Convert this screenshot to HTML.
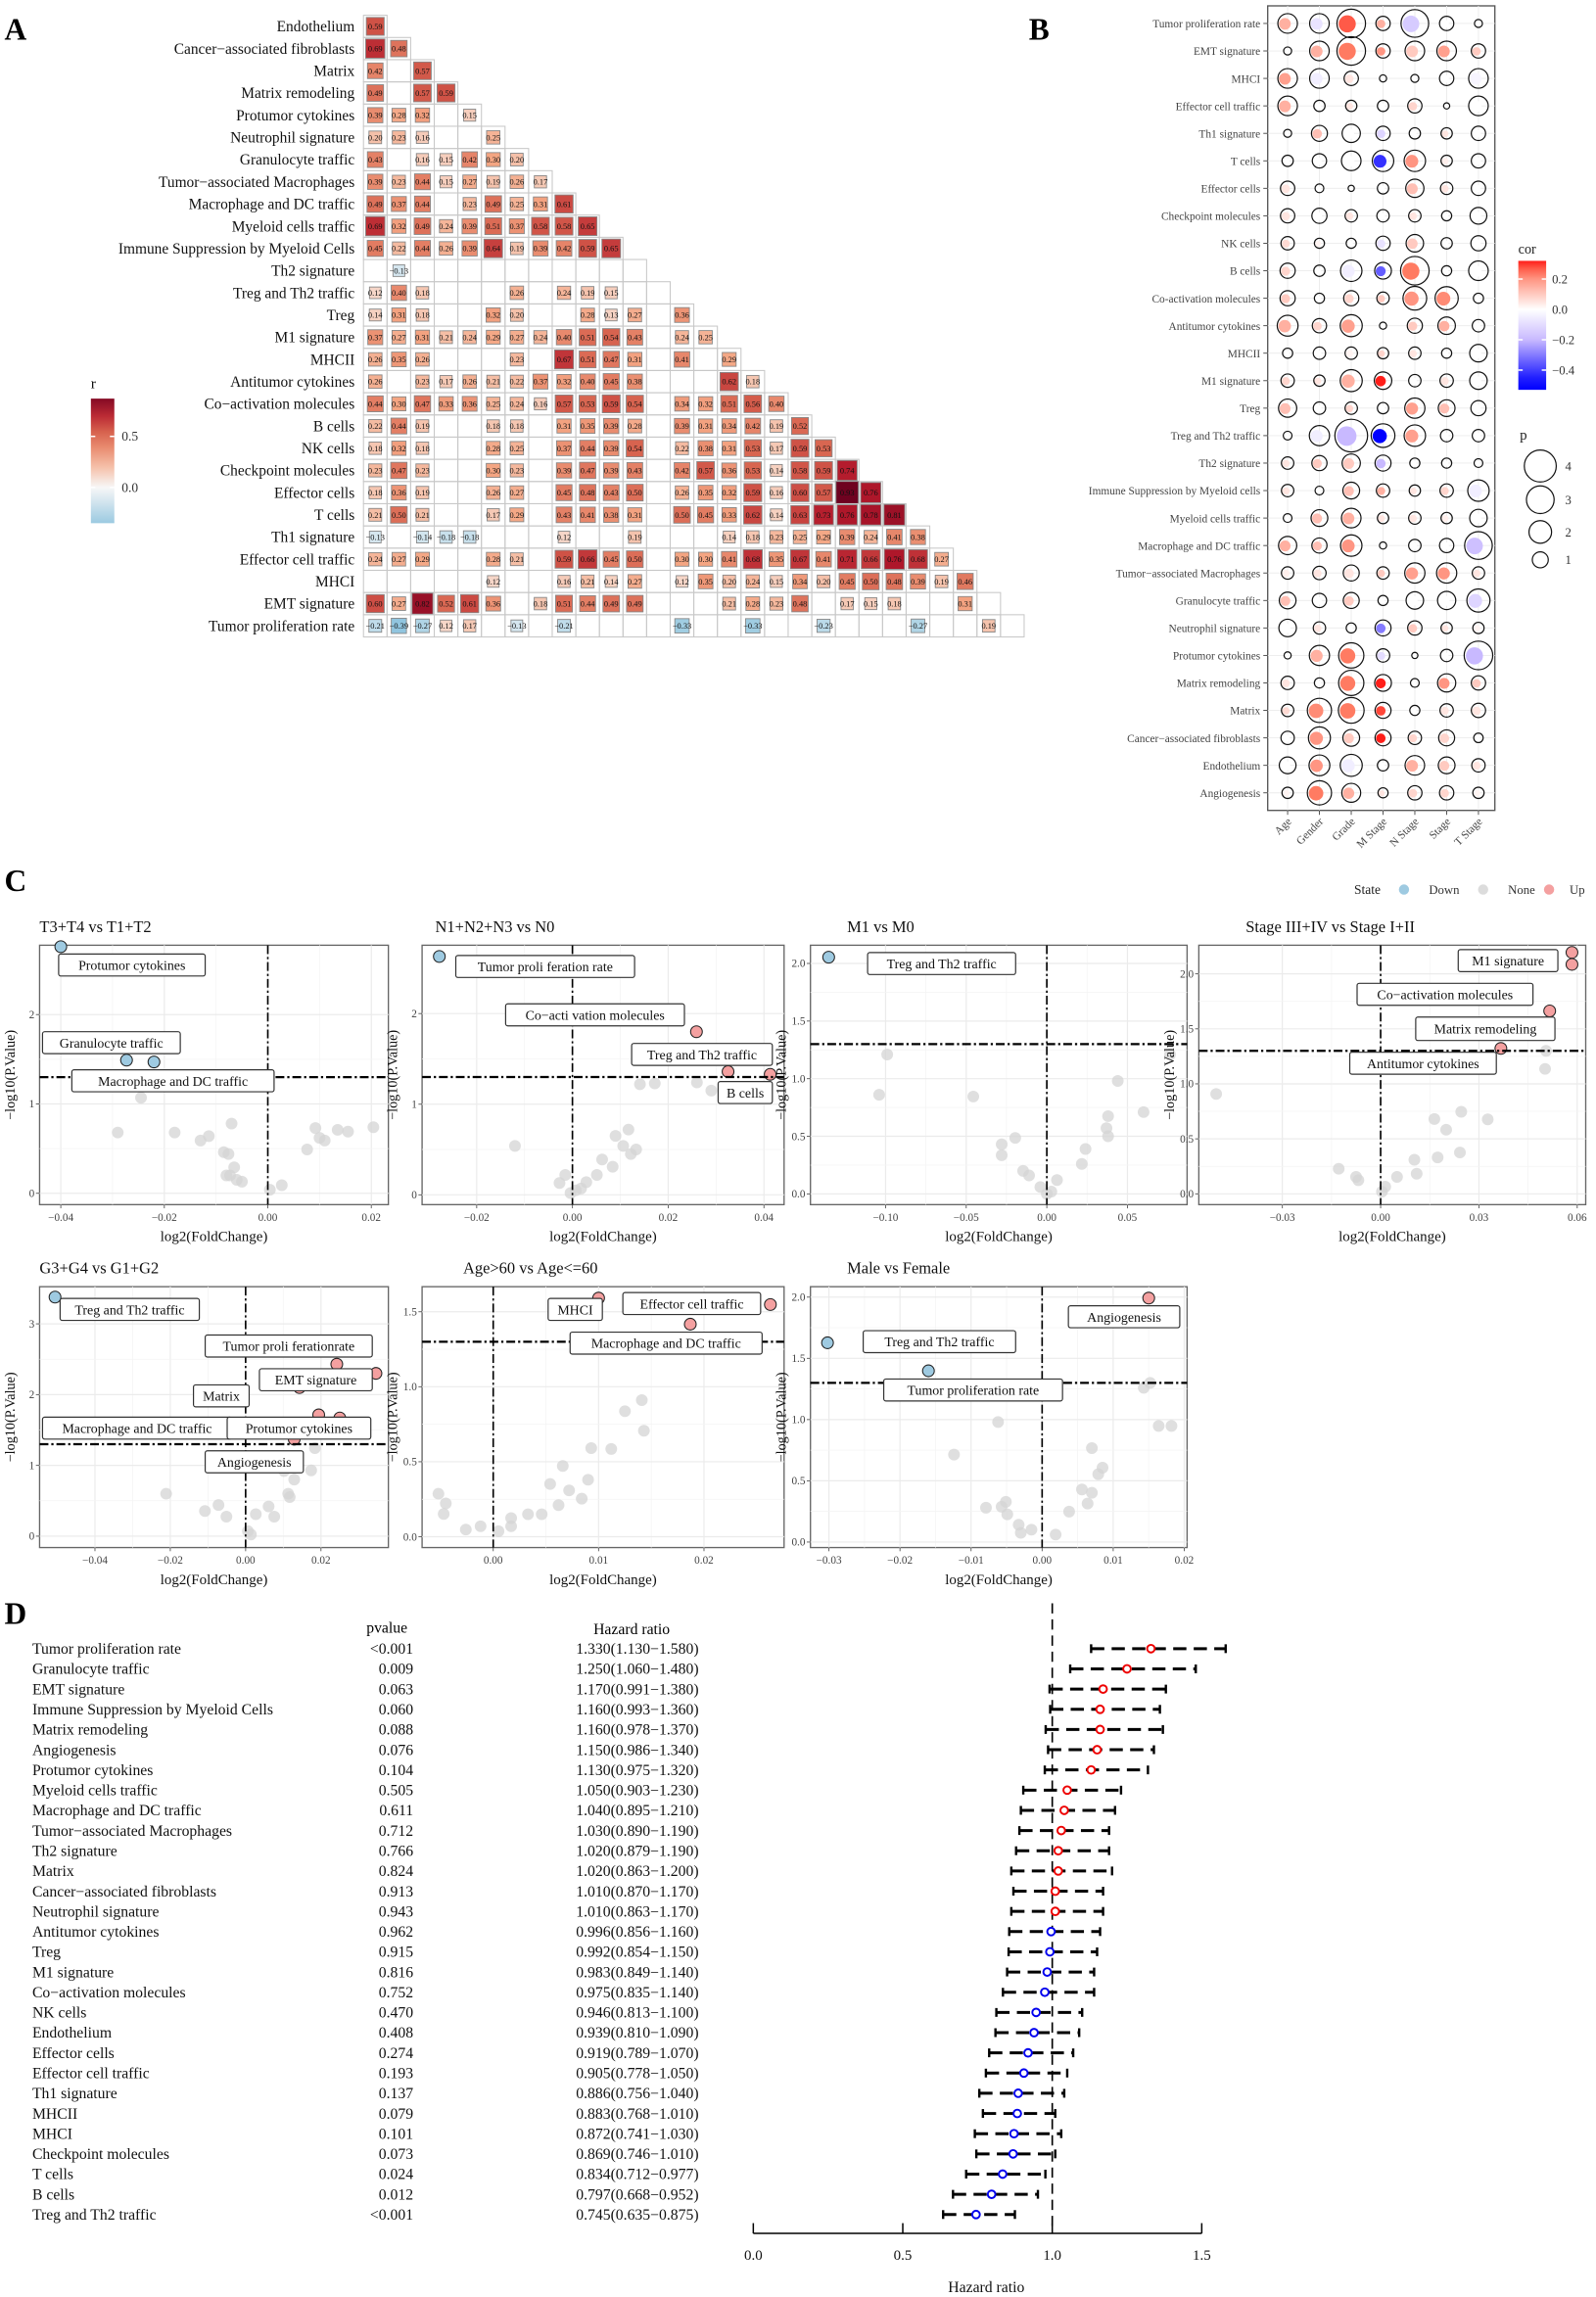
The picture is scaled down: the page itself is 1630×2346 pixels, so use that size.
<!DOCTYPE html>
<html><head><meta charset="utf-8">
<style>
html,body{margin:0;padding:0;background:#fff}
svg{display:block}
text{font-family:"Liberation Serif",serif}
</style></head>
<body>
<svg id="fig" width="1630" height="2346" viewBox="0 0 1089 1567.4" xmlns="http://www.w3.org/2000/svg"></svg>
<script>
// ---------- Panel A data ----------
const A_names=["Endothelium","Cancer−associated fibroblasts","Matrix","Matrix remodeling","Protumor cytokines","Neutrophil signature","Granulocyte traffic","Tumor−associated Macrophages","Macrophage and DC traffic","Myeloid cells traffic","Immune Suppression  by Myeloid Cells","Th2 signature","Treg and Th2 traffic","Treg","M1 signature","MHCII","Antitumor cytokines","Co−activation molecules","B cells","NK cells","Checkpoint molecules","Effector cells","T cells","Th1 signature","Effector cell traffic","MHCI","EMT signature","Tumor proliferation  rate"];
const _=null;
const A_vals=[
[.59],
[.69,.48],
[.42,_,.57],
[.49,_,.57,.59],
[.39,.28,.32,_,.15],
[.20,.23,.16,_,_,.25],
[.43,_,.16,.15,.42,.30,.20],
[.39,.23,.44,.15,.27,.19,.26,.17],
[.49,.37,.44,_,.23,.49,.25,.31,.61],
[.69,.32,.49,.24,.39,.51,.37,.58,.58,.65],
[.45,.22,.44,.26,.39,.64,.19,.39,.42,.59,.65],
[_,-.13],
[.12,.40,.18,_,_,_,.26,_,.24,.19,.15],
[.14,.31,.18,_,_,.32,.20,_,_,.28,.13,.27,_,.36],
[.37,.27,.31,.21,.24,.29,.27,.24,.40,.51,.54,.43,_,.24,.25],
[.26,.35,.26,_,_,_,.23,_,.67,.51,.47,.31,_,.41,_,.29],
[.26,_,.23,.17,.26,.21,.22,.37,.32,.40,.45,.38,_,_,_,.62,.18],
[.44,.30,.47,.33,.36,.25,.24,.16,.57,.53,.59,.54,_,.34,.32,.51,.56,.40],
[.22,.44,.19,_,_,.18,.18,_,.31,.35,.39,.28,_,.39,.31,.34,.42,.19,.52],
[.18,.32,.18,_,_,.28,.25,_,.37,.44,.39,.54,_,.22,.38,.31,.53,.17,.59,.53],
[.23,.47,.23,_,_,.30,.23,_,.39,.47,.39,.43,_,.42,.57,.36,.53,.14,.58,.59,.74],
[.18,.36,.19,_,_,.26,.27,_,.45,.48,.43,.50,_,.26,.35,.32,.59,.16,.60,.57,.93,.76],
[.21,.50,.21,_,_,.17,.29,_,.43,.41,.38,.31,_,.50,.45,.33,.62,.14,.63,.73,.76,.78,.81],
[-.13,_,-.14,-.18,-.18,_,_,_,.12,_,_,.19,_,_,_,.14,.18,.23,.25,.29,.39,.24,.41,.38],
[.24,.27,.29,_,_,.28,.21,_,.59,.66,.45,.50,_,.30,.30,.41,.68,.35,.67,.41,.71,.66,.76,.68,.27],
[_,_,_,_,_,.12,_,_,.16,.21,.14,.27,_,.12,.35,.20,.24,.15,.34,.20,.45,.50,.48,.39,.19,.46],
[.60,.27,.82,.52,.61,.36,_,.18,.51,.44,.49,.49,_,_,_,.21,.28,.23,.48,_,.17,.15,.18,_,_,.31],
[-.21,-.39,-.27,.12,.17,_,-.13,_,-.21,_,_,_,_,-.33,_,_,-.33,_,_,-.23,_,_,_,-.27,_,_,.19]
];
const A_legendTicks=[0.5,0.0];

// ---------- Panel B data ----------
const B_rows=["Tumor proliferation rate","EMT signature","MHCI","Effector cell traffic","Th1 signature","T cells","Effector cells","Checkpoint molecules","NK cells","B cells","Co-activation molecules","Antitumor cytokines","MHCII","M1 signature","Treg","Treg and Th2 traffic","Th2 signature","Immune Suppression by Myeloid cells","Myeloid cells traffic","Macrophage and DC traffic","Tumor−associated Macrophages","Granulocyte traffic","Neutrophil signature","Protumor cytokines","Matrix remodeling","Matrix","Cancer−associated fibroblasts","Endothelium","Angiogenesis"];
const B_cols=["Age","Gender","Grade","M Stage","N Stage","Stage","T Stage"];
const B_p=[
[1.5,1.5,3.2,0.8,3.0,0.8,0.25],[0.25,1.5,3.2,0.8,1.5,1.5,0.8],[1.5,1.5,0.8,0.2,0.25,0.8,1.5],[1.5,0.5,0.5,0.5,0.8,0.15,1.5],
[0.25,1.0,1.3,0.8,0.5,0.5,0.8],[0.5,0.8,1.5,1.8,1.8,0.5,0.8],[0.8,0.3,0.15,0.5,1.3,0.6,0.8],[0.8,0.9,0.6,0.6,0.6,0.4,1.1],
[0.7,0.4,0.4,0.8,1.2,0.5,0.9],[0.9,0.5,1.8,1.1,3.2,0.4,1.5],[0.9,0.4,0.9,0.6,2.2,2.1,0.4],[1.7,0.8,1.9,0.2,0.9,1.2,0.6],
[0.4,0.6,0.6,0.5,0.6,0.4,1.2],[0.7,0.5,1.9,1.2,0.6,0.7,1.2],[1.3,0.6,0.6,0.5,1.6,1.1,0.9],[0.3,1.6,4.2,2.2,1.8,0.6,0.6],
[0.6,0.9,1.3,1.0,0.4,0.4,0.3],[0.6,0.3,1.1,0.7,0.5,0.7,1.8],[0.3,1.1,1.5,0.5,0.6,0.5,1.2],[1.3,0.9,1.8,0.2,0.6,0.8,3.0],
[0.6,0.7,1.0,0.6,1.6,1.6,0.6],[1.1,0.8,1.0,0.4,1.2,1.3,2.1],[1.2,0.6,0.4,1.0,0.8,0.5,0.5],[0.2,1.6,2.5,0.7,0.15,0.6,3.2],
[0.7,0.4,2.5,1.1,0.3,1.3,0.8],[0.6,2.3,2.6,1.0,0.4,0.7,0.8],[0.7,1.9,1.1,1.0,0.7,1.0,0.35],[1.1,1.7,1.9,0.5,1.5,1.1,0.7],
[0.5,2.3,1.4,0.4,0.8,0.8,0.5]];
const B_cor=[
[.15,-.08,.27,.15,-.15,0,0],[0,.15,.25,.2,.1,.18,.1],[.18,-.05,.05,0,0,0,-.03],[.15,0,.05,0,.08,0,0],
[0,.12,0,-.12,0,.05,0],[0,0,0,-.42,.2,.03,0],[.05,0,0,0,.12,.05,0],[.05,0,.05,0,.05,0,0],
[.07,.02,0,-.08,.1,0,0],[.08,0,-.05,-.35,.25,0,0],[.1,0,.08,.1,.2,.22,0],[.15,.08,.18,0,.1,.15,0],
[0,0,.02,.08,.05,0,0],[.08,.05,.15,.33,0,.05,0],[.12,0,.08,0,.18,.12,0],[0,-.05,-.2,-.5,.18,0,0],
[.05,.1,.1,-.2,0,0,0],[.05,0,.12,.15,.05,.08,-.05],[0,.12,.15,.05,.05,.03,0],[.15,.12,.2,0,0,0,-.18],
[.03,.05,.05,.1,.18,.2,.05],[.12,0,.1,0,0,0,-.12],[0,.05,0,-.3,.1,.05,.02],[0,.15,.25,-.1,0,0,-.2],
[.05,0,.25,.45,0,.2,.1],[.07,.22,.25,.28,0,.05,.05],[0,.2,.1,.3,.08,.08,0],[0,.2,-.05,0,.15,.1,.05],
[.02,.25,.15,.05,.08,.08,.02]];
const B_corTicks=[0.2,0.0,-0.2,-0.4];
const B_pLegend=[4,3,2,1];

// ---------- Panel C data ----------
const v1x=[-0.040,-0.0273,-0.022,-0.0245,-0.029,-0.018,-0.0114,-0.013,-0.007,-0.0085,-0.0076,-0.0065,-0.0073,-0.008,-0.005,-0.006,0.0004,0.0027,0.0076,0.0092,0.011,0.0135,0.0155,0.0204,0.010];
const v1y=[2.76,1.49,1.47,1.07,0.68,0.68,0.64,0.59,0.78,0.46,0.44,0.29,0.20,0.20,0.13,0.15,0.04,0.09,0.49,0.73,0.59,0.71,0.69,0.74,0.62];
const v1s=["D","D","D","N","N","N","N","N","N","N","N","N","N","N","N","N","N","N","N","N","N","N","N","N","N"];
const v2x=[-0.0278,0.0259,0.0325,0.0413,0.0141,0.0172,0.026,0.029,-0.012,0.0117,0.009,0.0106,0.0133,0.0122,0.0062,0.0084,0.0051,0.0029,0.0018,-0.0015,-0.0027,-0.0004,0.0007];
const v2y=[2.63,1.80,1.36,1.33,1.22,1.23,1.24,1.15,0.54,0.72,0.65,0.54,0.50,0.45,0.39,0.31,0.22,0.14,0.07,0.22,0.13,0.02,0.05];
const v2s=["D","U","U","U","N","N","N","N","N","N","N","N","N","N","N","N","N","N","N","N","N","N","N"];
const v3x=[-0.1353,-0.099,0.0764,-0.104,-0.0456,0.044,0.06,0.038,0.037,0.038,-0.0196,-0.028,-0.028,0.024,0.0217,-0.0147,-0.011,0.0063,-0.004,0.0028,0.0];
const v3y=[2.054,1.21,1.21,0.86,0.845,0.98,0.71,0.675,0.57,0.50,0.486,0.43,0.336,0.39,0.26,0.20,0.16,0.12,0.06,0.02,0.0];
const v3s=["D","N","N","N","N","N","N","N","N","N","N","N","N","N","N","N","N","N","N","N","N"];
const v4x=[0.0584,0.0584,0.0516,0.0367,0.0505,0.0502,-0.0502,0.0246,0.0164,0.0327,0.020,0.0242,0.0174,0.0103,0.011,0.005,-0.0128,-0.0075,-0.0068,0.0014,0.0004];
const v4y=[2.195,2.086,1.663,1.322,1.30,1.136,0.908,0.746,0.68,0.677,0.583,0.376,0.331,0.31,0.183,0.154,0.228,0.154,0.124,0.065,0.02];
const v4s=["U","U","U","U","N","N","N","N","N","N","N","N","N","N","N","N","N","N","N","N","N"];
const v5x=[-0.0506,0.0242,0.0346,0.0143,0.0194,0.025,0.0129,0.0184,0.0102,0.0129,0.0174,-0.0211,-0.0072,-0.0108,-0.0051,0.0027,0.0061,0.0076,0.0113,0.0117,0.0006,0.0014];
const v5y=[3.378,2.43,2.30,2.10,1.714,1.67,1.37,1.244,0.92,0.80,0.93,0.60,0.44,0.355,0.276,0.31,0.42,0.276,0.60,0.553,0.07,0.023];
const v5s=["D","U","U","U","U","U","U","N","N","N","N","N","N","N","N","N","N","N","N","N","N","N"];
const v6x=[0.010,0.0263,0.0187,0.0141,0.0125,0.0143,0.0093,0.0112,0.0066,0.0054,0.009,0.0072,0.0084,0.0062,0.0046,0.0033,0.0017,0.0017,0.0005,-0.0012,-0.0026,-0.0052,-0.0045,-0.0047];
const v6y=[1.591,1.548,1.417,0.911,0.837,0.707,0.591,0.585,0.472,0.352,0.38,0.309,0.254,0.211,0.15,0.15,0.124,0.07,0.037,0.07,0.048,0.287,0.222,0.152];
const v6s=["U","U","U","N","N","N","N","N","N","N","N","N","N","N","N","N","N","N","N","N","N","N","N","N"];
const v7x=[-0.0302,-0.016,0.015,0.0152,0.0143,0.0164,0.0182,-0.0062,-0.0124,0.007,0.0085,0.0079,0.007,0.0056,0.0064,0.0038,-0.0079,-0.0051,-0.0057,-0.0049,-0.0033,-0.003,-0.0015,0.0019];
const v7y=[1.627,1.398,1.992,1.30,1.26,0.948,0.948,0.98,0.714,0.767,0.607,0.554,0.402,0.429,0.314,0.248,0.28,0.328,0.288,0.226,0.141,0.075,0.101,0.061];
const v7s=["D","D","U","N","N","N","N","N","N","N","N","N","N","N","N","N","N","N","N","N","N","N","N","N"];
const v1xt=[-0.04,-0.02,0.00,0.02], v1yt=[0,1,2];
const v2xt=[-0.02,0.00,0.02,0.04], v2yt=[0,1,2];
const v3xt=[-0.10,-0.05,0.00,0.05], v3yt=[0.0,0.5,1.0,1.5,2.0];
const v4xt=[-0.03,0.00,0.03,0.06], v4yt=[0.0,0.5,1.0,1.5,2.0];
const v5xt=[-0.04,-0.02,0.00,0.02], v5yt=[0,1,2,3];
const v6xt=[0.00,0.01,0.02], v6yt=[0.0,0.5,1.0,1.5];
const v7xt=[-0.03,-0.02,-0.01,0.00,0.01,0.02], v7yt=[0.0,0.5,1.0,1.5,2.0];

// ---------- Panel D data ----------
const D_names=["Tumor proliferation rate","Granulocyte traffic","EMT signature","Immune Suppression by Myeloid Cells","Matrix remodeling","Angiogenesis","Protumor cytokines","Myeloid cells traffic","Macrophage and DC traffic","Tumor−associated Macrophages","Th2 signature","Matrix","Cancer−associated fibroblasts","Neutrophil signature","Antitumor cytokines","Treg","M1 signature","Co−activation molecules","NK cells","Endothelium","Effector cells","Effector cell traffic","Th1 signature","MHCII","MHCI","Checkpoint molecules","T cells","B cells","Treg and Th2 traffic"];
const D_p=["<0.001","0.009","0.063","0.060","0.088","0.076","0.104","0.505","0.611","0.712","0.766","0.824","0.913","0.943","0.962","0.915","0.816","0.752","0.470","0.408","0.274","0.193","0.137","0.079","0.101","0.073","0.024","0.012","<0.001"];
const D_hr=[1.330,1.250,1.170,1.160,1.160,1.150,1.130,1.050,1.040,1.030,1.020,1.020,1.010,1.010,0.996,0.992,0.983,0.975,0.946,0.939,0.919,0.905,0.886,0.883,0.872,0.869,0.834,0.797,0.745];
const D_lo=[1.130,1.060,0.991,0.993,0.978,0.986,0.975,0.903,0.895,0.890,0.879,0.863,0.870,0.863,0.856,0.854,0.849,0.835,0.813,0.810,0.789,0.778,0.756,0.768,0.741,0.746,0.712,0.668,0.635];
const D_hi=[1.580,1.480,1.380,1.360,1.370,1.340,1.320,1.230,1.210,1.190,1.190,1.200,1.170,1.170,1.160,1.150,1.140,1.140,1.100,1.090,1.070,1.050,1.040,1.010,1.030,1.010,0.977,0.952,0.875];
const D_ticks=[0.0,0.5,1.0,1.5];

// ---------- helpers ----------
const NS="http://www.w3.org/2000/svg";
const svg=document.getElementById('fig');
function mk(tag,a,p){const e=document.createElementNS(NS,tag);for(const k in a)e.setAttribute(k,a[k]);(p||svg).appendChild(e);return e;}
function tx(x,y,s,a,p){const e=mk('text',Object.assign({x:x,y:y},a||{}),p);e.textContent=s;return e;}
function grp(name){const g=mk('g',{});return g;}
function lerp(a,b,t){return a+(b-a)*t;}
function hex(c){return [parseInt(c.substr(1,2),16),parseInt(c.substr(3,2),16),parseInt(c.substr(5,2),16)];}
function scaleCol(stops,v){if(v<=stops[0][0])return stops[0][1];for(let i=1;i<stops.length;i++){if(v<=stops[i][0]){const t=(v-stops[i-1][0])/(stops[i][0]-stops[i-1][0]);const a=hex(stops[i-1][1]),b=hex(stops[i][1]);return 'rgb('+[0,1,2].map(k=>Math.round(lerp(a[k],b[k],t))).join(',')+')';}}return stops[stops.length-1][1];}
function fmt(v){return (v<0?'−':'')+Math.abs(v).toFixed(2);}
function letter(s,x,y){const t=tx(x,y,s,{'font-family':'Liberation Sans,sans-serif','font-weight':'bold','font-size':21});}

// ---------- Panel A ----------
letter('A',3,27);
const AS=[[-0.4,'#8ec4de'],[0,'#f7f7f7'],[0.3,'#f4a582'],[0.55,'#d6604d'],[0.75,'#b2182b'],[0.95,'#67001f']];
const gA=grp('panel-a-correlation-heatmap');
const ax0=248,acw=16.1,ay0=18,arh=15.15;
A_names.forEach((n,r)=>{
  const cy=ay0+arh*r;
  const lab=tx(242,cy+3.5,n,{'text-anchor':'end','font-size':10.3,'fill':'#111'},gA);
  
  
  for(let c=0;c<=r;c++){
    mk('rect',{x:ax0+acw*c,y:cy-arh/2,width:acw,height:arh,fill:'none',stroke:'#c8c8c8','stroke-width':0.7},gA);
  }
  (A_vals[r]||[]).forEach((v,c)=>{
    if(v===null||v===undefined)return;
    const s=(0.45+0.6*Math.abs(v))*Math.min(acw,arh);
    const cx=ax0+acw*c+acw/2;
    const cell=mk('rect',{x:cx-s/2,y:cy-s/2,width:s,height:s,fill:scaleCol(AS,v),stroke:'#888','stroke-width':0.6},gA);
    
    
    tx(cx,cy+2,fmt(v),{'text-anchor':'middle','font-size':5.6,fill:'#111'},gA);
  });
});
const gAL=grp('panel-a-color-legend');
tx(62,265,'r',{'font-size':10},gAL);
const defs=mk('defs',{});
const lgA=mk('linearGradient',{id:'gA',x1:0,y1:1,x2:0,y2:0},defs);
[-0.35,-0.1,0,0.2,0.4,0.55,0.7,0.87].forEach(v=>mk('stop',{offset:((v+0.35)/1.22),'stop-color':scaleCol(AS,v)},lgA));
mk('rect',{x:62,y:272,width:16,height:85,fill:'url(#gA)'},gAL);
A_legendTicks.forEach(v=>{const y=357-(v+0.35)/1.22*85;mk('line',{x1:62,x2:65,y1:y,y2:y,stroke:'#fff'},gAL);mk('line',{x1:75,x2:78,y1:y,y2:y,stroke:'#fff'},gAL);tx(83,y+3,v.toFixed(1),{'font-size':9,fill:'#333'},gAL);});

// ---------- Panel B ----------
letter('B',702,27);
const gB=grp('panel-b-bubble-chart');
const bx0=865,bx1=1020,by0=4,by1=553;
mk('rect',{x:bx0,y:by0,width:bx1-bx0,height:by1-by0,fill:'#fff',stroke:'#555','stroke-width':0.9},gB);
const bcx=c=>878.6+c*21.7, bcy=r=>16+r*18.75;
B_cols.forEach((c,i)=>{mk('line',{x1:bcx(i),x2:bcx(i),y1:by0,y2:by1,stroke:'#ebebeb','stroke-width':0.6},gB);});
B_rows.forEach((n,r)=>{mk('line',{x1:bx0,x2:bx1,y1:bcy(r),y2:bcy(r),stroke:'#ebebeb','stroke-width':0.6},gB);
  const t=tx(860,bcy(r)+2.8,n,{'text-anchor':'end','font-size':7.6,fill:'#444'},gB);
  
  
  mk('line',{x1:862,x2:865,y1:bcy(r),y2:bcy(r),stroke:'#444','stroke-width':0.6},gB);
});
B_cols.forEach((c,i)=>{mk('line',{x1:bcx(i),x2:bcx(i),y1:by1,y2:by1+3,stroke:'#444','stroke-width':0.6},gB);
  const t=tx(bcx(i)+3,by1+8,c,{'text-anchor':'end','font-size':7.6,fill:'#444',transform:'rotate(-45 '+(bcx(i)+3)+' '+(by1+8)+')'},gB);
  
  
});
function corCol(v){
  if(v>=0){const t=Math.min(1,v/0.3);
    if(t<0.85){const u=t/0.85;return 'rgb(255,'+Math.round(255-u*(255-120))+','+Math.round(255-u*(255-95))+')';}
    const u=(t-0.85)/0.15;return 'rgb(255,'+Math.round(120-u*90)+','+Math.round(95-u*70)+')';}
  const t=Math.min(1,-v/0.5);
  if(t<0.4){const u=t/0.4;return 'rgb('+Math.round(255-u*55)+','+Math.round(255-u*70)+',255)';}
  const u=(t-0.4)/0.6;return 'rgb('+Math.round(200-u*200)+','+Math.round(185-u*185)+',255)';}
const bR=p=>Math.max(1.6,5.45*Math.sqrt(p));
B_rows.forEach((n,r)=>B_cols.forEach((c,i)=>{
  const p=B_p[r][i],v=B_cor[r][i],R=bR(p);
  const inner=mk('circle',{cx:bcx(i)-R*0.28,cy:bcy(r)+0.3,r:Math.max(1.3,R*0.6),fill:corCol(v)},gB);
  
  
  const ring=mk('circle',{cx:bcx(i),cy:bcy(r),r:R,fill:'none',stroke:'#111','stroke-width':0.8},gB);
  
  
}));
const gBL=grp('panel-b-legend');
tx(1036,173,'cor',{'font-size':9.5,fill:'#222'},gBL);
const lgB=mk('linearGradient',{id:'gB',x1:0,y1:1,x2:0,y2:0},defs);
[-0.53,-0.45,-0.3,-0.2,-0.1,-0.05,0,0.1,0.2,0.27,0.32].forEach(v=>mk('stop',{offset:(v+0.53)/0.85,'stop-color':corCol(v)},lgB));
mk('rect',{x:1036,y:178,width:19,height:88,fill:'url(#gB)'},gBL);
B_corTicks.forEach(v=>{const y=266-(v+0.53)/0.85*88;mk('line',{x1:1036,x2:1039,y1:y,y2:y,stroke:'#fff'},gBL);mk('line',{x1:1052,x2:1055,y1:y,y2:y,stroke:'#fff'},gBL);tx(1059,y+3,(v<0?'−':'')+Math.abs(v).toFixed(1),{'font-size':8.5,fill:'#333'},gBL);});
tx(1037,300,'p',{'font-size':10,fill:'#222'},gBL);
const pLy=[318,341,363,382];
B_pLegend.forEach((p,k)=>{mk('circle',{cx:1051,cy:pLy[k],r:bR(p),fill:'none',stroke:'#111','stroke-width':0.8},gBL);tx(1068,pLy[k]+3,String(p),{'font-size':8.5,fill:'#333'},gBL);});

// ---------- Panel C ----------
letter('C',3,608);
const gLeg=grp('panel-c-state-legend');
tx(924,610,'State',{'font-size':9,fill:'#222'},gLeg);
[['#9ecae1','Down',958],['#dcdcdc','None',1012],['#f4a0a0','Up',1057]].forEach(d=>{mk('circle',{cx:d[2],cy:607,r:3.5,fill:d[0]},gLeg);tx(d[2]+17-(d[1]==='Up'?3:0),610,d[1],{'font-size':8.5,fill:'#333'},gLeg);});
const VP=[
 {t:'T3+T4 vs T1+T2',b:[27,265,645,822],xd:[-0.0441,0.0233],yd:[-0.127,2.776],x:v1x,y:v1y,s:v1s,xt:v1xt,yt:v1yt,yf:0,
  L:[['Protumor cytokines',40,651,140,666],['Granulocyte traffic',29,704,123,719],['Macrophage and DC traffic',49,730,187,745]]},
 {t:'N1+N2+N3 vs N0',b:[288,535,645,822],xd:[-0.0314,0.0442],yd:[-0.108,2.754],x:v2x,y:v2y,s:v2s,xt:v2xt,yt:v2yt,yf:0,
  L:[['Tumor proli feration  rate',311,652,433,667],['Co−acti vation molecules',345,685,467,700],['Treg and Th2 traffic',431,712,527,727],['B cells',490,738,527,753]]},
 {t:'M1 vs M0',b:[553,810,645,822],xd:[-0.1466,0.087],yd:[-0.093,2.158],x:v3x,y:v3y,s:v3s,xt:v3xt,yt:v3yt,yf:1,
  L:[['Treg and Th2 traffic',592,650,693,665]]},
 {t:'Stage III+IV vs Stage I+II',b:[818,1082,645,822],xd:[-0.0555,0.0626],yd:[-0.098,2.26],x:v4x,y:v4y,s:v4s,xt:v4xt,yt:v4yt,yf:1,
  L:[['M1 signature',995,648,1063,663],['Co−activation molecules',926,671,1046,686],['Matrix remodeling',966,694,1061,710],['Antitumor cytokines',921,718,1021,733]]},
 {t:'G3+G4 vs G1+G2',b:[27,265,878,1056],xd:[-0.0547,0.0379],yd:[-0.161,3.525],x:v5x,y:v5y,s:v5s,xt:v5xt,yt:v5yt,yf:0,
  L:[['Treg and Th2 traffic',41,886,136,901],['Tumor proli ferationrate',140,911,254,926],['EMT signature',177,934,254,949],['Matrix',132,945,170,960],['Macrophage and DC traffic',29,967,158,982],['Protumor cytokines',155,967,253,982],['Angiogenesis',140,990,207,1005]]},
 {t:'Age>60 vs Age<=60',b:[288,535,878,1056],xd:[-0.00675,0.0276],yd:[-0.072,1.667],x:v6x,y:v6y,s:v6s,xt:v6xt,yt:v6yt,yf:1,
  L:[['MHCI',374,886,411,901],['Effector cell traffic',425,882,519,897],['Macrophage and DC traffic',389,909,520,924]]},
 {t:'Male vs  Female',b:[553,810,878,1056],xd:[-0.0326,0.0204],yd:[-0.045,2.085],x:v7x,y:v7y,s:v7s,xt:v7xt,yt:v7yt,yf:1,
  L:[['Treg and Th2 traffic',589,908,693,923],['Tumor proliferation rate',603,941,725,956],['Angiogenesis',729,891,805,906]]}
];
const titleX=[27,297,578,850,27,316,578];
VP.forEach((P,k)=>{
  const g=grp('volcano-plot-'+(k+1));
  const [x0,x1,y0,y1]=P.b;
  const X=v=>x0+(v-P.xd[0])/(P.xd[1]-P.xd[0])*(x1-x0);
  const Y=v=>y1-(v-P.yd[0])/(P.yd[1]-P.yd[0])*(y1-y0);
  tx(titleX[k],y0-9,P.t,{'font-size':11,fill:'#111'},g);
  mk('rect',{x:x0,y:y0,width:x1-x0,height:y1-y0,fill:'#fff',stroke:'#666','stroke-width':0.9},g);
  P.xt.forEach((v,i)=>{mk('line',{x1:X(v),x2:X(v),y1:y0,y2:y1,stroke:'#ebebeb','stroke-width':0.8},g);if(i>0){const m=(v+P.xt[i-1])/2;mk('line',{x1:X(m),x2:X(m),y1:y0,y2:y1,stroke:'#f4f4f4','stroke-width':0.5},g);}});
  P.yt.forEach((v,i)=>{mk('line',{x1:x0,x2:x1,y1:Y(v),y2:Y(v),stroke:'#ebebeb','stroke-width':0.8},g);if(i>0){const m=(v+P.yt[i-1])/2;mk('line',{x1:x0,x2:x1,y1:Y(m),y2:Y(m),stroke:'#f4f4f4','stroke-width':0.5},g);}});
  P.xt.forEach(v=>{mk('line',{x1:X(v),x2:X(v),y1:y1,y2:y1+2.5,stroke:'#555','stroke-width':0.6},g);tx(X(v),y1+11,(v<0?'−':'')+Math.abs(v).toFixed(2),{'text-anchor':'middle','font-size':7.5,fill:'#444'},g);});
  P.yt.forEach(v=>{mk('line',{x1:x0-2.5,x2:x0,y1:Y(v),y2:Y(v),stroke:'#555','stroke-width':0.6},g);tx(x0-3.5,Y(v)+2.5,P.yf?v.toFixed(1):String(v),{'text-anchor':'end','font-size':7.5,fill:'#444'},g);});
  tx((x0+x1)/2,y1+25,'log2(FoldChange)',{'text-anchor':'middle','font-size':10,fill:'#111'},g);
  const yl=tx(x0-17,(y0+y1)/2,'−log10(P.Value)',{'text-anchor':'middle','font-size':9.5,fill:'#111',transform:'rotate(-90 '+(x0-17)+' '+((y0+y1)/2)+')'},g);
  
  
  const order=P.s.map((s,i)=>i).sort((a,b)=>(P.s[a]==='N'?0:1)-(P.s[b]==='N'?0:1));
  order.forEach(i=>{
    const s=P.s[i];
    const pt=mk('circle',{cx:X(P.x[i]),cy:Y(P.y[i]),r:4,fill:s==='N'?'#d4d4d4':(s==='U'?'#f4a0a0':'#9ecae1'),'fill-opacity':s==='N'?0.75:1,stroke:s==='N'?'none':'#222','stroke-width':0.7},g);
    
    
  });
  mk('line',{x1:x0,x2:x1,y1:Y(1.3),y2:Y(1.3),stroke:'#000','stroke-width':1.5,'stroke-dasharray':'6,2,1.5,2'},g);
  mk('line',{x1:X(0),x2:X(0),y1:y0,y2:y1,stroke:'#000','stroke-width':1.1,'stroke-dasharray':'6,2,1.5,2'},g);
  P.L.forEach(l=>{
    const lg=mk('g',{},g);
    
    
    mk('rect',{x:l[1],y:l[2],width:l[3]-l[1],height:l[4]-l[2],rx:1.5,fill:'#fff',stroke:'#333','stroke-width':0.8},lg);
    tx((l[1]+l[3])/2,(l[2]+l[4])/2+3.3,l[0],{'text-anchor':'middle','font-size':9.3,fill:'#111'},lg);
  });
});

// ---------- Panel D ----------
letter('D',3,1108);
const gD=grp('panel-d-forest-plot');
const dX=v=>514+v*204, dY=i=>1125+i*13.79;
tx(264,1114,'pvalue',{'text-anchor':'middle','font-size':10.5},gD);
tx(431,1115,'Hazard ratio',{'text-anchor':'middle','font-size':10.5},gD);
mk('line',{x1:dX(1),x2:dX(1),y1:1094,y2:1520,stroke:'#000','stroke-width':1.1,'stroke-dasharray':'7,4'},gD);
D_names.forEach((n,i)=>{
  const y=dY(i);
  const t=tx(22,y+3.5,n,{'font-size':10.5,fill:'#111'},gD);
  
  
  tx(282,y+3.5,D_p[i],{'text-anchor':'end','font-size':10.5,fill:'#111'},gD);
  tx(393,y+3.5,D_hr[i].toFixed(3)+'('+D_lo[i].toFixed(3)+'−'+D_hi[i].toFixed(3)+')',{'font-size':10.5,fill:'#111'},gD);
  const ci=mk('line',{x1:dX(D_lo[i]),x2:dX(D_hi[i]),y1:y,y2:y,stroke:'#000','stroke-width':2,'stroke-dasharray':'9,5'},gD);
  
  
  mk('line',{x1:dX(D_lo[i]),x2:dX(D_lo[i]),y1:y-3,y2:y+3,stroke:'#000','stroke-width':1.6},gD);
  mk('line',{x1:dX(D_hi[i]),x2:dX(D_hi[i]),y1:y-3,y2:y+3,stroke:'#000','stroke-width':1.6},gD);
  const pt=mk('circle',{cx:dX(D_hr[i]),cy:y,r:2.6,fill:'#fff',stroke:D_hr[i]>=1?'#e00':'#00e','stroke-width':1.3},gD);
  
  
});
mk('line',{x1:dX(0),x2:dX(1.5),y1:1524,y2:1524,stroke:'#000','stroke-width':1},gD);
D_ticks.forEach(v=>{mk('line',{x1:dX(v),x2:dX(v),y1:1517,y2:1524,stroke:'#000','stroke-width':1},gD);tx(dX(v),1542,v.toFixed(1),{'text-anchor':'middle','font-size':10,fill:'#111'},gD);});
const xt=tx(673,1564,'Hazard  ratio',{'text-anchor':'middle','font-size':10.5,fill:'#111'},gD);


</script>
</body></html>
